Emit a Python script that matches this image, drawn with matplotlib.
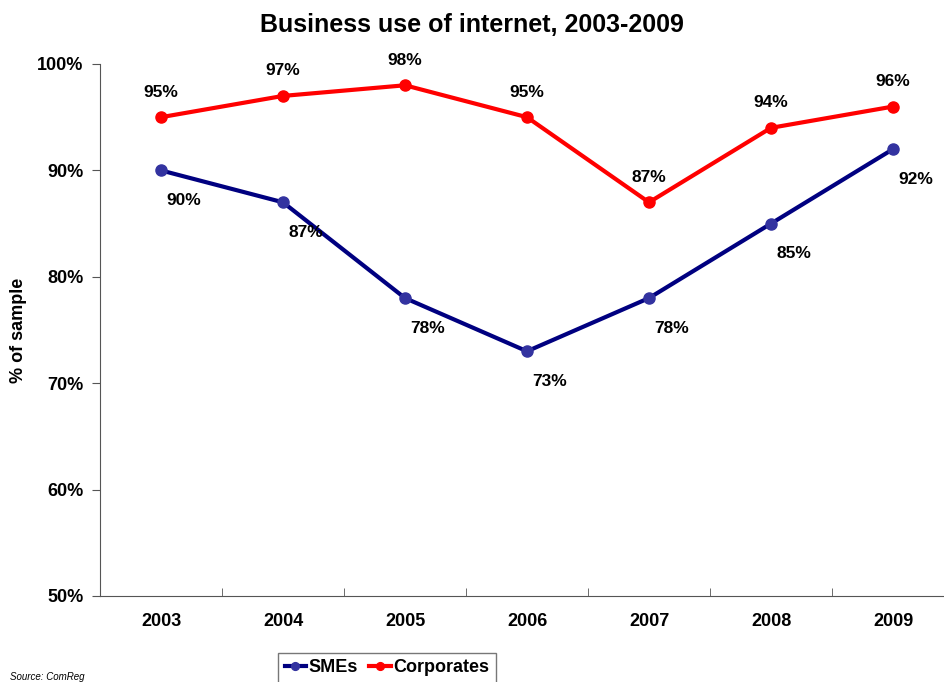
import matplotlib
matplotlib.use('Agg')
import matplotlib.pyplot as plt

plt.rcParams['font.family'] = ['Liberation Sans', 'DejaVu Sans']

years = ['2003', '2004', '2005', '2006', '2007', '2008', '2009']
smes = [90, 87, 78, 73, 78, 85, 92]
corporates = [95, 97, 98, 95, 87, 94, 96]
yticks = [50, 60, 70, 80, 90, 100]

fig = plt.figure(figsize=(9.44, 6.82), dpi=100)
ax = fig.add_axes([100 / 944, 1 - 596 / 682, 854 / 944, 532 / 682])

x = list(range(len(years)))
ax.plot(x, smes, color='#000080', lw=3, marker='o', ms=8,
        markerfacecolor='#3333a0', markeredgecolor='#3333a0', label='SMEs')
ax.plot(x, corporates, color='#ff0000', lw=3, marker='o', ms=8,
        markerfacecolor='#ff0000', markeredgecolor='#ff0000', label='Corporates')

# value labels
for i, v in enumerate(smes):
    ax.annotate(f'{v}%', (i, v), xytext=(23, -30), textcoords='offset pixels',
                ha='center', va='center', fontsize=12.5, fontweight='bold')
for i, v in enumerate(corporates):
    ax.annotate(f'{v}%', (i, v), xytext=(0, 25), textcoords='offset pixels',
                ha='center', va='center', fontsize=12.5, fontweight='bold')

ax.set_xlim(-0.5, len(years) - 0.5)
ax.set_ylim(50, 100)
ax.set_yticks(yticks)
ax.set_yticklabels([f'{t}%' for t in yticks], fontsize=13, fontweight='bold')
ax.set_xticks(x)
ax.set_xticklabels(years, fontsize=13, fontweight='bold')
ax.set_xticks([i + 0.5 for i in range(-1, len(years))], minor=True)
ax.tick_params(axis='x', which='major', length=0, pad=12)
ax.tick_params(axis='x', which='minor', length=6, direction='in', color='#555555')
ax.tick_params(axis='y', length=6, direction='out', color='#555555', pad=6)
ax.spines['top'].set_visible(False)
ax.spines['right'].set_visible(False)
ax.spines['left'].set_color('#555555')
ax.spines['bottom'].set_color('#555555')

ax.set_ylabel('% of sample', fontsize=13, fontweight='bold')
ax.yaxis.set_label_coords(-73 / 854, 0.5)
fig.text(0.5, 1 - 25 / 682, 'Business use of internet, 2003-2009', ha='center', va='center',
         fontsize=18, fontweight='bold')

leg = fig.legend(loc='upper center', bbox_to_anchor=(387 / 944, 1 - 653 / 682), ncol=2,
                 prop={'weight': 'bold', 'size': 13}, frameon=True, fancybox=False,
                 edgecolor='#555555', handlelength=1.2, handletextpad=0.15, columnspacing=0.6,
                 borderpad=0.35, borderaxespad=0, markerscale=0.7)

fig.text(10 / 944, 1 - 677 / 682, 'Source: ComReg', fontsize=7, style='italic', va='center')

fig.savefig('out.png', dpi=100)
